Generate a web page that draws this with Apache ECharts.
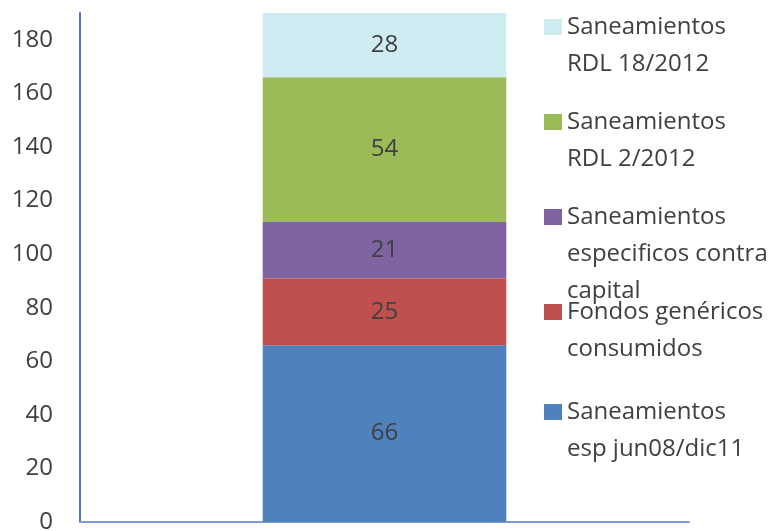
<!DOCTYPE html>
<html>
<head>
<meta charset="utf-8">
<script src="https://cdn.jsdelivr.net/npm/echarts@6/dist/echarts.min.js"></script>
<style>
  html, body { margin: 0; padding: 0; background: #fff; }
  #chart { width: 774px; height: 531px; }
</style>
</head>
<body>
<div id="chart"></div>
<script>
// data, stacked from the bottom up
const categories = ['']
const seriesNames = [
  'Saneamientos esp jun08/dic11',
  'Fondos genéricos consumidos',
  'Saneamientos especificos contra capital',
  'Saneamientos RDL 2/2012',
  'Saneamientos RDL 18/2012',
]
const legendLabels = [
  'Saneamientos\nesp jun08/dic11',
  'Fondos genéricos\nconsumidos',
  'Saneamientos\nespecificos contra\ncapital',
  'Saneamientos\nRDL 2/2012',
  'Saneamientos\nRDL 18/2012',
]
const valuesEsp = [66]
const valuesFondos = [25]
const valuesContraCapital = [21]
const valuesRdl2 = [54]
const valuesRdl18 = [28]
const seriesValues = [valuesEsp, valuesFondos, valuesContraCapital, valuesRdl2, valuesRdl18]

const FONT = "'Open Sans', Lato, sans-serif"
const TEXT = '#404040'
const COLORS = ['#4F81BD', '#C0504D', '#8064A2', '#9BBB59', '#D0ECF3']
const LINE_H = 37
// vertical centre of each legend square, in pixels
const legendCenters = [412, 312, 217, 122, 27]

const chart = echarts.init(document.getElementById('chart'))

// the text is centred on the square, so blank lines on top push
// the first real line level with it
const legends = seriesNames.map((name, i) => {
  const lines = legendLabels[i].split('\n').length
  const total = lines * 2 - 1
  return {
    data: [name],
    left: 544,
    top: legendCenters[i] - total * LINE_H / 2,
    padding: 0,
    itemWidth: 18,
    itemHeight: 16,
    icon: 'rect',
    selectedMode: false,
    formatter: () => '\n'.repeat(lines - 1) + legendLabels[i],
    textStyle: {
      fontFamily: FONT, fontSize: 24, color: TEXT, lineHeight: LINE_H,
    },
  }
})

chart.setOption({
  animation: false,
  color: COLORS,
  grid: { left: 80, right: 85, top: 13, bottom: 9, outerBoundsMode: 'none' },
  legend: legends,
  xAxis: {
    type: 'category',
    data: categories,
    axisLine: { lineStyle: { color: '#7F9BD3', width: 2 } },
    axisTick: { show: false },
    axisLabel: { show: false },
  },
  yAxis: {
    type: 'value',
    min: 0,
    max: 190,
    interval: 20,
    axisLine: { show: true, lineStyle: { color: '#4F74C2', width: 2 } },
    axisTick: { show: false },
    splitLine: { show: false },
    axisLabel: {
      fontFamily: FONT, fontSize: 24, color: TEXT, margin: 27,
      formatter: v => (v % 20 === 0 ? String(v) : ''),
    },
  },
  series: seriesNames.map((name, i) => ({
    name,
    type: 'bar',
    stack: 'total',
    barWidth: '40%',
    data: seriesValues[i],
    label: {
      show: true, position: 'inside',
      fontFamily: FONT, fontSize: 24, color: TEXT,
    },
  })),
})
</script>
</body>
</html>
